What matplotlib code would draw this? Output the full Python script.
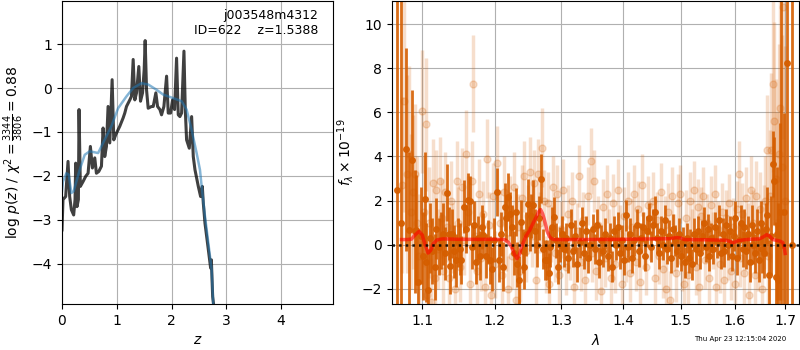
import numpy as np
import matplotlib
matplotlib.use('Agg')
import matplotlib.pyplot as plt
from matplotlib.ticker import FixedLocator, ScalarFormatter, NullLocator

#---------------- p(z) panel
z_grid = [0.000, 0.018, 0.067, 0.110, 0.140, 0.171, 0.213, 0.238, 0.250, 0.274, 0.299, 0.311,
          0.335, 0.384, 0.433, 0.476, 0.518, 0.555, 0.598, 0.628, 0.671, 0.720, 0.750, 0.780,
          0.811, 0.841, 0.872, 0.915, 0.945, 0.982, 1.024, 1.055, 1.116, 1.146, 1.177, 1.238,
          1.268, 1.299, 1.329, 1.360, 1.402, 1.433, 1.470, 1.500, 1.518, 1.543, 1.573, 1.634,
          1.665, 1.713, 1.744, 1.787, 1.817, 1.860, 1.909, 1.939, 1.982, 2.018, 2.055, 2.091,
          2.122, 2.152, 2.183, 2.226, 2.250, 2.274, 2.323, 2.366, 2.396, 2.427, 2.488, 2.530,
          2.561, 2.579, 2.610, 2.671, 2.713, 2.726, 2.750, 2.768]
log_pz = [-3.23, -2.54, -2.47, -1.67, -2.47, -2.77, -2.89, -2.54, -1.71, -2.70, -2.54, -0.49,
          -2.24, -2.13, -2.01, -1.94, -1.33, -1.82, -1.59, -1.94, -1.90, -1.78, -0.91, -1.56,
          -1.33, -0.42, -1.25, 0.19, -1.18, -1.06, -0.95, -0.87, -0.68, -0.57, -0.42, -0.27,
          -0.19, 0.65, -0.27, -0.11, 0.49, -0.30, -0.11, 0.42, 1.08, -0.04, -0.46, -0.42,
          -0.42, -0.11, -0.42, -0.49, -0.61, -0.42, 0.27, -0.57, -0.57, -0.27, -0.49, 0.68,
          -0.61, -0.65, -0.57, 0.84, -0.49, -1.18, -1.37, -0.65, -1.56, -1.86, -2.24, -2.47,
          -2.24, -2.62, -3.08, -3.68, -4.10, -3.91, -4.75, -4.94]

z_smooth = [0.000, 0.018, 0.079, 0.122, 0.171, 0.213, 0.323, 0.415, 0.506, 0.659, 0.750, 0.902,
            1.024, 1.177, 1.299, 1.451, 1.573, 1.726, 1.848, 2.030, 2.183, 2.274, 2.366, 2.457,
            2.518, 2.549, 2.610, 2.671, 2.732, 2.762]
log_pz_smooth = [-2.35, -2.13, -1.94, -1.97, -2.39, -2.35, -1.86, -1.52, -1.44, -1.48, -1.25, -0.87,
                 -0.46, -0.19, 0.00, 0.11, 0.08, -0.04, -0.15, -0.23, -0.30, -0.49, -0.95, -1.48,
                 -1.86, -2.24, -2.92, -3.53, -4.14, -4.97]

#---------------- spectrum panel
dark_wave = [1.0676, 1.0719, 1.0796, 1.0826, 1.0869, 1.0905, 1.0926, 1.0947, 1.0985, 1.1010,
             1.1036, 1.1058, 1.1080, 1.1105, 1.1130, 1.1168, 1.1190, 1.1220, 1.1250, 1.1280,
             1.1305, 1.1334, 1.1355, 1.1370, 1.1400, 1.1430, 1.1459, 1.1485, 1.1510, 1.1528,
             1.1563, 1.1590, 1.1618, 1.1645, 1.1675, 1.1700, 1.1734, 1.1760, 1.1790, 1.1815,
             1.1839, 1.1870, 1.1900, 1.1930, 1.1960, 1.1990, 1.2035, 1.2060, 1.2090, 1.2115,
             1.2145, 1.2170, 1.2191, 1.2220, 1.2250, 1.2280, 1.2307, 1.2330, 1.2352, 1.2385,
             1.2410, 1.2430, 1.2460, 1.2490, 1.2515, 1.2540, 1.2570, 1.2600, 1.2630, 1.2660,
             1.2690, 1.2715, 1.2745, 1.2775, 1.2800, 1.2830, 1.2860, 1.2885, 1.2915, 1.2945,
             1.2975, 1.3005, 1.3040, 1.3075, 1.3110, 1.3145, 1.3180, 1.3215, 1.3250, 1.3285,
             1.3320, 1.3355, 1.3390, 1.3425, 1.3460, 1.3495, 1.3530, 1.3565, 1.3600, 1.3635,
             1.3670, 1.3705, 1.3740, 1.3775, 1.3810, 1.3845, 1.3880, 1.3915, 1.3950, 1.3985,
             1.4020, 1.4050, 1.4085, 1.4120, 1.4155, 1.4190, 1.4225, 1.4260, 1.4295, 1.4330,
             1.4365, 1.4400, 1.4435, 1.4470, 1.4510, 1.4545, 1.4580, 1.4615, 1.4650, 1.4685,
             1.4720, 1.4755, 1.4790, 1.4825, 1.4860, 1.4895, 1.4930, 1.4965, 1.5000, 1.5035,
             1.5070, 1.5105, 1.5140, 1.5175, 1.5210, 1.5245, 1.5280, 1.5315, 1.5350, 1.5385,
             1.5420, 1.5455, 1.5490, 1.5525, 1.5560, 1.5595, 1.5630, 1.5665, 1.5700, 1.5735,
             1.5770, 1.5805, 1.5840, 1.5875, 1.5910, 1.5945, 1.5980, 1.6015, 1.6050, 1.6085,
             1.6120, 1.6155, 1.6190, 1.6225, 1.6260, 1.6295, 1.6330, 1.6365, 1.6400, 1.6435,
             1.6470, 1.6505, 1.6540, 1.6575, 1.6610, 1.6635, 1.6670, 1.6705, 1.6748, 1.6775,
             1.6805, 1.6835, 1.6860, 1.6890, 1.6916, 1.6966, 1.7037, 1.7141]
dark_flux = [2.5, 1.0, 4.32, 0.68, 3.83, 0.6, 0.65, -1.7, 0.4, -0.5,
             2.08, -0.8, -2.08, 0.3, -0.3, -1.03, 0.73, -0.1, 0.2, 0.47,
             -0.4, 2.35, 0.5, -0.95, 0.5, -0.3, -0.71, 0.1, -0.2, -0.69,
             1.71, 0.7, 2.04, 2.0, -0.1, 0.9, -0.79, 0.3, -0.5, 0.8,
             0.42, -0.5, 0.1, -0.7, -1.1, 0.2, 2.39, -0.7, 0.5, -1.0,
             1.71, 1.2, 2.17, 1.4, 0.8, -0.4, 1.48, -0.9, -1.62, 1.03,
             -0.3, -1.02, 0.5, 1.86, 0.7, 1.3, 1.81, 0.6, 0.0, 1.2,
             3.0, -0.2, -0.71, -0.7, -1.3, -0.1, 0.8, 1.26, 0.2, -1.0,
             0.0, 0.5, -0.2, 0.3, -0.6, 0.9, -0.3, 0.4, -0.9, 0.1,
             1.0, -0.4, 0.6, -0.6, 0.0, 0.7, -0.2, 0.9, -0.8, 0.2,
             -0.3, 0.5, -0.5, 0.3, -1.0, 0.6, 0.0, 0.8, -0.4, 0.2,
             -0.7, 1.33, -0.1, 0.5, -0.6, 0.2, 0.9, -0.3, 0.3, 0.8,
             -0.5, 0.6, 1.2, -0.1, 0.9, 1.49, 0.3, -0.4, 0.6, 0.0,
             1.1, -0.2, 0.4, -0.6, 0.7, 0.2, -0.3, 0.5, -0.5, 0.1,
             -0.8, 0.3, -0.6, 0.0, -0.9, 0.5, -0.2, 0.6, -0.4, 0.4,
             1.0, -0.1, 0.7, -0.5, 0.3, -0.2, 0.8, 0.1, 1.1, -0.4,
             0.5, -0.3, 0.9, 0.0, 0.6, -0.5, 0.4, 1.2, -0.6, 0.2,
             1.0, -0.2, 0.8, -0.3, 0.5, -0.8, 0.9, 0.0, -0.4, 0.6,
             -0.7, 1.0, -0.2, -0.4, 0.7, 1.33, -1.4, 0.4, 3.67, 2.9,
             -1.47, 0.5, -1.62, 1.5, 0.0, 1.48, 8.23, 0.0]
dark_err = [40, 40, 4.6, 3.5, 3.2, 2.8, 2.5, 2.4, 2.2, 2.0,
            2.1, 1.8, 1.9, 1.6, 1.5, 1.5, 1.4, 1.3, 1.3, 1.4,
            1.2, 1.3, 1.2, 1.3, 1.1, 1.2, 1.2, 1.1, 1.2, 1.1,
            1.2, 1.1, 1.2, 1.1, 1.0, 1.1, 1.0, 1.0, 1.1, 1.0,
            1.0, 1.0, 1.0, 1.1, 1.0, 1.0, 1.1, 1.0, 1.0, 1.1,
            1.1, 1.0, 1.1, 1.0, 1.0, 1.0, 1.1, 1.0, 1.1, 1.0,
            1.0, 1.0, 1.0, 1.1, 1.0, 1.0, 1.1, 1.0, 1.0, 1.0,
            1.1, 0.9, 0.9, 0.9, 0.9, 0.9, 0.9, 0.9, 0.8, 0.8,
            0.8, 0.8, 0.8, 0.7, 0.7, 0.7, 0.7, 0.7, 0.8, 0.7,
            0.7, 0.7, 0.7, 0.7, 0.7, 0.7, 0.7, 0.7, 0.7, 0.7,
            0.7, 0.7, 0.7, 0.7, 0.7, 0.7, 0.7, 0.7, 0.7, 0.7,
            0.7, 0.7, 0.7, 0.7, 0.7, 0.7, 0.7, 0.7, 0.7, 0.7,
            0.7, 0.7, 0.7, 0.7, 0.7, 0.7, 0.7, 0.7, 0.7, 0.7,
            0.7, 0.7, 0.7, 0.7, 0.7, 0.7, 0.7, 0.7, 0.7, 0.7,
            0.7, 0.7, 0.7, 0.7, 0.7, 0.7, 0.7, 0.7, 0.7, 0.7,
            0.7, 0.7, 0.7, 0.7, 0.7, 0.7, 0.7, 0.7, 0.7, 0.7,
            0.7, 0.7, 0.7, 0.7, 0.7, 0.7, 0.7, 0.8, 0.8, 0.8,
            0.8, 0.8, 0.8, 0.8, 0.8, 0.9, 0.9, 0.9, 0.9, 1.0,
            1.0, 1.0, 1.1, 1.1, 1.2, 1.3, 1.6, 1.8, 1.5, 2.0,
            2.5, 3.0, 3.5, 4.0, 40, 4.5, 40, 40]

light_wave = [1.0740, 1.0770, 1.0800, 1.0830, 1.0850, 1.0880, 1.0904, 1.0930, 1.0960, 1.1005,
              1.1020, 1.1045, 1.1065, 1.1090, 1.1115, 1.1140, 1.1165, 1.1185, 1.1210, 1.1235,
              1.1260, 1.1285, 1.1310, 1.1340, 1.1365, 1.1390, 1.1415, 1.1440, 1.1465, 1.1490,
              1.1515, 1.1540, 1.1565, 1.1595, 1.1620, 1.1650, 1.1675, 1.1693, 1.1725, 1.1750,
              1.1775, 1.1800, 1.1830, 1.1860, 1.1890, 1.1920, 1.1950, 1.1980, 1.2010, 1.2040,
              1.2070, 1.2100, 1.2130, 1.2160, 1.2190, 1.2220, 1.2250, 1.2280, 1.2310, 1.2340,
              1.2370, 1.2400, 1.2430, 1.2460, 1.2490, 1.2520, 1.2550, 1.2580, 1.2610, 1.2640,
              1.2670, 1.2695, 1.2725, 1.2755, 1.2785, 1.2815, 1.2845, 1.2875, 1.2905, 1.2935,
              1.2965, 1.2995, 1.3030, 1.3065, 1.3100, 1.3135, 1.3170, 1.3205, 1.3240, 1.3275,
              1.3310, 1.3345, 1.3380, 1.3415, 1.3463, 1.3485, 1.3520, 1.3555, 1.3590, 1.3625,
              1.3660, 1.3695, 1.3730, 1.3765, 1.3800, 1.3835, 1.3870, 1.3905, 1.3940, 1.3975,
              1.4010, 1.4045, 1.4080, 1.4115, 1.4150, 1.4185, 1.4220, 1.4255, 1.4290, 1.4325,
              1.4360, 1.4395, 1.4430, 1.4465, 1.4500, 1.4535, 1.4570, 1.4605, 1.4640, 1.4675,
              1.4710, 1.4745, 1.4780, 1.4800, 1.4850, 1.4885, 1.4920, 1.4955, 1.4990, 1.5025,
              1.5060, 1.5095, 1.5130, 1.5165, 1.5200, 1.5235, 1.5270, 1.5305, 1.5340, 1.5375,
              1.5410, 1.5445, 1.5480, 1.5515, 1.5550, 1.5585, 1.5620, 1.5655, 1.5690, 1.5725,
              1.5760, 1.5795, 1.5830, 1.5865, 1.5900, 1.5935, 1.5970, 1.6005, 1.6040, 1.6085,
              1.6110, 1.6145, 1.6180, 1.6215, 1.6250, 1.6285, 1.6320, 1.6355, 1.6390, 1.6425,
              1.6460, 1.6495, 1.6530, 1.6565, 1.6600, 1.6630, 1.6660, 1.6690, 1.6720, 1.6760,
              1.6780, 1.6810, 1.6840, 1.6870, 1.6900, 1.6930, 1.6960, 1.6990]
light_flux = [2.7, 6.5, 3.2, 4.1, 1.5, 2.4, 3.2, 1.0, -0.5, 6.05,
              1.5, 5.45, -2.3, 1.0, -2.6, 2.8, -1.5, 2.5, -0.2, 2.9,
              1.2, -1.2, 2.4, 0.8, -1.5, 2.0, 0.3, -2.0, 2.9, 1.0,
              -1.0, 2.6, 0.2, 4.1, 1.5, -1.8, 2.9, 7.3, 0.4, -1.2,
              2.3, -0.6, 1.4, -1.9, 3.9, 0.9, -2.3, 2.2, -0.9, 3.7,
              1.0, -1.4, 2.4, 0.3, -2.0, 1.6, -0.5, 2.6, -2.5, 0.8,
              -1.2, 2.1, 3.1, -0.3, 1.3, 3.3, 0.4, 2.8, -1.6, 3.2,
              1.0, 4.4, 2.0, -0.9, 1.9, -1.8, 0.5, 2.6, -0.4, 2.3,
              -1.4, 0.7, 2.5, -1.0, 1.4, -0.3, 2.0, -1.9, 0.6, 3.1,
              -0.8, 1.1, -1.6, 2.2, 3.8, -0.4, 2.9, -1.2, 0.9, -2.1,
              1.7, -0.6, 2.3, 0.3, -1.5, 1.9, -0.9, 2.5, 0.5, -1.8,
              1.3, -0.4, 2.0, -1.3, 0.8, 2.3, -0.8, 1.6, -1.7, 2.7,
              0.2, -1.0, 1.8, 0.6, 2.0, -1.5, 1.1, -0.5, 2.4, -1.1,
              0.9, -2.0, 1.5, -2.5, 2.2, 0.1, -1.3, 1.9, 2.3, -0.8,
              -1.8, 1.2, -1.4, 2.0, 0.3, 2.5, -1.0, 1.7, -1.9, 1.3,
              2.2, -0.7, 1.0, -1.5, 1.8, 0.2, 2.3, -1.9, 0.7, -0.9,
              1.5, -1.6, 1.2, -0.3, 1.9, -1.2, 0.8, -1.8, 1.6, 3.2,
              -0.6, 1.4, -1.3, 2.1, 0.5, -2.3, 2.5, 1.0, -1.4, 2.2,
              -0.5, 1.6, -2.0, 0.8, 2.0, 4.3, -0.5, 2.2, 4.3, 7.3,
              5.6, 3.0, 1.0, 4.1, 6.2, 3.5, 10.8, 2.0]
light_err = [4.0, 5.0, 4.5, 4.0, 3.5, 3.5, 3.2, 3.0, 2.8, 2.8,
             2.5, 3.0, 2.5, 2.5, 2.0, 2.0, 2.0, 1.8, 1.8, 2.0,
             1.8, 1.8, 1.8, 1.6, 1.6, 1.8, 1.6, 1.6, 1.8, 1.6,
             1.6, 1.8, 1.6, 2.0, 1.6, 1.6, 1.8, 2.2, 1.6, 1.6,
             1.6, 1.5, 1.5, 1.5, 1.8, 1.5, 1.5, 1.5, 1.5, 1.7,
             1.5, 1.5, 1.6, 1.5, 1.5, 1.5, 1.5, 1.6, 1.5, 1.5,
             1.4, 1.5, 1.6, 1.4, 1.4, 1.6, 1.4, 1.5, 1.4, 1.6,
             1.4, 1.8, 1.4, 1.3, 1.4, 1.3, 1.3, 1.4, 1.3, 1.3,
             1.3, 1.3, 1.4, 1.3, 1.3, 1.3, 1.3, 1.3, 1.3, 1.4,
             1.3, 1.3, 1.3, 1.3, 1.5, 1.3, 1.4, 1.3, 1.3, 1.3,
             1.3, 1.3, 1.3, 1.3, 1.3, 1.3, 1.3, 1.4, 1.3, 1.3,
             1.3, 1.3, 1.3, 1.3, 1.3, 1.3, 1.3, 1.3, 1.3, 1.4,
             1.3, 1.3, 1.3, 1.3, 1.3, 1.3, 1.3, 1.3, 1.3, 1.3,
             1.3, 1.3, 1.3, 1.3, 1.3, 1.3, 1.3, 1.3, 1.3, 1.3,
             1.3, 1.3, 1.3, 1.3, 1.3, 1.3, 1.3, 1.3, 1.3, 1.3,
             1.3, 1.3, 1.3, 1.3, 1.3, 1.3, 1.3, 1.3, 1.3, 1.3,
             1.3, 1.3, 1.3, 1.3, 1.3, 1.3, 1.3, 1.3, 1.3, 1.5,
             1.3, 1.4, 1.4, 1.4, 1.4, 1.4, 1.5, 1.5, 1.5, 1.6,
             1.6, 1.7, 1.8, 1.9, 2.0, 2.5, 2.5, 3.0, 3.5, 4.0,
             4.5, 4.5, 5.0, 5.0, 6.0, 6.0, 6.0, 7.0]

model_wave = [1.0732, 1.0800, 1.0861, 1.0910, 1.0960, 1.1000, 1.1040, 1.1079, 1.1115, 1.1150,
              1.1200, 1.1280, 1.1500, 1.1800, 1.2000, 1.2145, 1.2200, 1.2243, 1.2290, 1.2325,
              1.2360, 1.2400, 1.2460, 1.2515, 1.2570, 1.2615, 1.2650, 1.2680, 1.2710, 1.2740,
              1.2780, 1.2817, 1.2860, 1.2895, 1.3200, 1.4000, 1.4800, 1.4858, 1.4918, 1.4990,
              1.5067, 1.5500, 1.5840, 1.5900, 1.5965, 1.6010, 1.6060, 1.6220, 1.6480, 1.6560,
              1.6628, 1.6690, 1.6748, 1.6880, 1.6949, 1.6980, 1.7000]
model_flux = [0.23, 0.23, 0.25, 0.45, 0.60, 0.45, 0.00, -0.38, -0.25, 0.05,
              0.22, 0.26, 0.24, 0.24, 0.24, 0.23, 0.10, -0.10, -0.45, -0.64,
              -0.45, -0.05, 0.40, 0.65, 1.00, 1.26, 1.50, 1.59, 1.40, 1.10,
              0.60, 0.35, 0.25, 0.23, 0.23, 0.24, 0.27, 0.29, 0.32, 0.30,
              0.23, 0.22, 0.20, 0.16, 0.08, 0.12, 0.18, 0.23, 0.26, 0.35,
              0.45, 0.38, 0.23, 0.17, 0.10, -0.10, -0.40]

wave_ticks = [1.1, 1.2, 1.3, 1.4, 1.5, 1.6, 1.7]
g141_color = (0.8352941176470589, 0.3686274509803922, 0.0)

fig = plt.figure(figsize=(8, 3.5), dpi=100)

#-------------left: log p(z)
ax = fig.add_axes([0.0775, 0.131, 0.339, 0.866])
ax.plot(z_grid, log_pz, color='k', alpha=0.75, lw=2.2)
ax.plot(z_smooth, log_pz_smooth, color='tab:blue', alpha=0.55, lw=1.8)
ax.set_xlim(0, 4.95)
ax.set_ylim(-4.92, 1.98)
ax.set_xticks([0, 1, 2, 3, 4])
ax.set_yticks([-4, -3, -2, -1, 0, 1])
ax.grid()
ax.set_xlabel(r'$z$')
ax.set_ylabel(r'$\log\,p(z)$ / $\chi^2=\frac{3344}{3806}=0.88$')
ax.text(0.945, 0.975, 'j003548m4312\nID=622    z=1.5388', ha='right', va='top',
        transform=ax.transAxes, fontsize=9)

#-------------right: spectrum
ax2 = fig.add_axes([0.49, 0.131, 0.5091, 0.866])
ax2.errorbar(light_wave, light_flux, light_err, color=g141_color, alpha=0.2,
             marker='o', ms=5, linestyle='None', elinewidth=2.5)
ax2.errorbar(dark_wave, dark_flux, dark_err, color=g141_color, alpha=0.9,
             marker='o', ms=4, linestyle='None', elinewidth=2)
ax2.plot(model_wave, model_flux, color='r', alpha=0.6, lw=2.5, zorder=5)
ax2.axhline(0, color='k', linestyle=':', lw=1.8, alpha=0.85, zorder=6)

ax2.set_xscale('log')
ax2.set_xlim(1.061, 1.729)
ax2.set_ylim(-2.7, 11.05)
ax2.xaxis.set_major_locator(FixedLocator(wave_ticks))
ax2.xaxis.set_major_formatter(ScalarFormatter())
ax2.xaxis.set_minor_locator(NullLocator())
ax2.set_yticks([-2, 0, 2, 4, 6, 8, 10])
ax2.grid()
ax2.set_xlabel(r'$\lambda$')
ax2.set_ylabel(r'$f_\lambda \times 10^{-19}$')

fig.text(0.983, 0.031, 'Thu Apr 23 12:15:04 2020', ha='right', va='center', fontsize=5)

fig.savefig('out.png', dpi=100)
